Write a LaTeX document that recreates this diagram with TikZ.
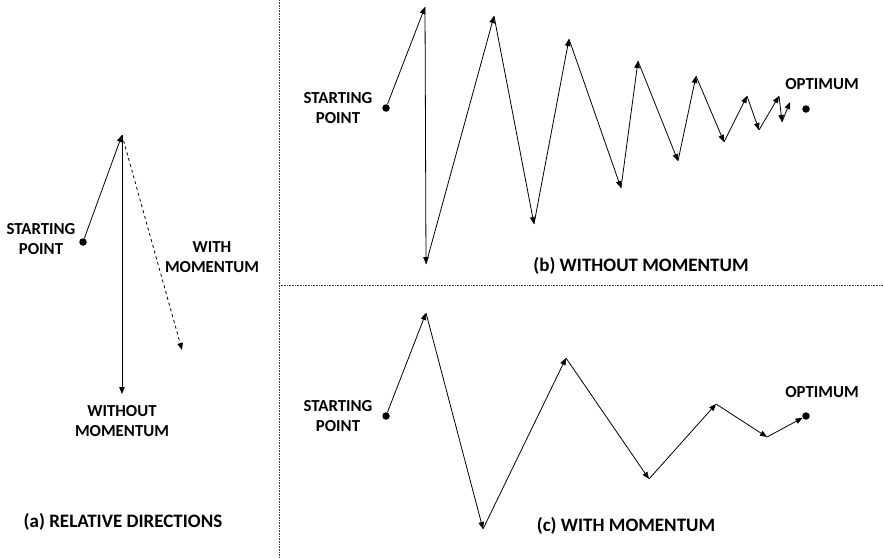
\documentclass[tikz,border=0pt]{standalone}
\usepackage{fontspec}
\setmainfont{Carlito}
\usetikzlibrary{arrows.meta}
\tikzset{
  lbl/.style={font=\fontsize{16.8}{20.5}\selectfont\bfseries, align=center, inner sep=0pt},
  captxt/.style={font=\fontsize{19}{22}\selectfont\bfseries, inner sep=0pt},
  stp/.style={line width=0.8pt, -{Triangle[length=7pt,width=5.5pt]}},
  dsh/.style={stp, dashed},
  dot/.style={circle, fill=black, inner sep=0pt, minimum size=7.5pt},
  sep/.style={densely dotted, line width=0.6pt, black!75}
}
\begin{document}
\begin{tikzpicture}[x=1pt,y=-1pt]
\useasboundingbox (0,0) rectangle (883,557);
% separators
\coordinate (vt) at (279,0);
\coordinate (vb) at (279,557);
\coordinate (hl) at (279,285);
\coordinate (hr) at (883,285);
\draw[sep] (vt) -- (vb);
\draw[sep] (hl) -- (hr);

% ---------- (a) ----------
\node[dot] (aS) at (83,242) {};
\coordinate (aT) at (122,135);
\coordinate (aW) at (122,394);
\coordinate (aM) at (182,350);
\draw[stp] (aS) -- (aT);
\draw[stp] (aT) -- (aW);
\draw[dsh] (aT) -- (aM);
\node[lbl] (aSL) at (41,239) {STARTING\\POINT};
\node[lbl] (aML) at (212,257) {WITH\\MOMENTUM};
\node[lbl] (aWL) at (122,421) {WITHOUT\\MOMENTUM};
\node[captxt] (aC) at (123,522) {(a) RELATIVE DIRECTIONS};

% ---------- (b) ----------
\node[dot] (bS) at (386,108) {};
\coordinate (b1) at (425,7);
\coordinate (b2) at (426,264);
\coordinate (b3) at (494,16);
\coordinate (b4) at (534,224);
\coordinate (b5) at (569,39);
\coordinate (b6) at (621,188);
\coordinate (b7) at (638,61);
\coordinate (b8) at (678,161);
\coordinate (b9) at (696,76);
\coordinate (b10) at (724,142);
\coordinate (b11) at (747,96);
\coordinate (b12) at (759,130);
\coordinate (b13) at (779,96);
\coordinate (b14) at (782,122);
\coordinate (b15) at (790,102);
\node[dot] (bO) at (806,109) {};
\draw[stp] (bS) -- (b1);
\draw[stp] (b1) -- (b2);
\draw[stp] (b2) -- (b3);
\draw[stp] (b3) -- (b4);
\draw[stp] (b4) -- (b5);
\draw[stp] (b5) -- (b6);
\draw[stp] (b6) -- (b7);
\draw[stp] (b7) -- (b8);
\draw[stp] (b8) -- (b9);
\draw[stp] (b9) -- (b10);
\draw[stp] (b10) -- (b11);
\draw[stp] (b11) -- (b12);
\draw[stp] (b12) -- (b13);
\draw[stp] (b13) -- (b14);
\draw[stp] (b14) -- (b15);
\node[lbl] (bSL) at (338,108) {STARTING\\POINT};
\node[lbl] (bOL) at (822,84) {OPTIMUM};
\node[captxt] (bC) at (641,266) {(b) WITHOUT MOMENTUM};

% ---------- (c) ----------
\node[dot] (cS) at (386,416) {};
\coordinate (c1) at (426,313);
\coordinate (c2) at (483,529);
\coordinate (c3) at (566,358);
\coordinate (c4) at (649,479);
\coordinate (c5) at (716,404);
\coordinate (c6) at (767,437);
\node[dot] (cO) at (806,416) {};
\draw[stp] (cS) -- (c1);
\draw[stp] (c1) -- (c2);
\draw[stp] (c2) -- (c3);
\draw[stp] (c3) -- (c4);
\draw[stp] (c4) -- (c5);
\draw[stp] (c5) -- (c6);
\draw[stp] (c6) -- (cO);
\node[lbl] (cSL) at (338,416) {STARTING\\POINT};
\node[lbl] (cOL) at (822,392) {OPTIMUM};
\node[captxt] (cC) at (626,526) {(c) WITH MOMENTUM};
\end{tikzpicture}
\end{document}
